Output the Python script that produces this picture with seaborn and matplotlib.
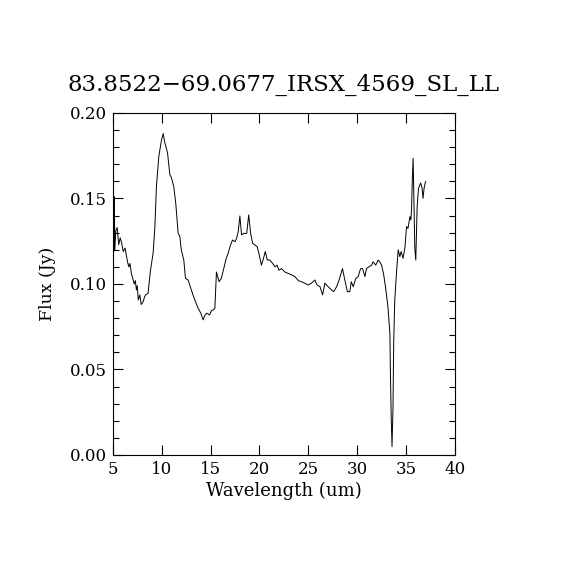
import matplotlib
matplotlib.use('Agg')
import matplotlib.pyplot as plt
from matplotlib.ticker import MultipleLocator
import seaborn as sns
import pandas as pd

wavelength = [5.10, 5.15, 5.20, 5.30, 5.44, 5.60, 5.75, 5.90, 6.06, 6.25, 6.40, 6.50, 6.63,
              6.75, 6.90, 7.05, 7.18, 7.30, 7.41, 7.50, 7.60, 7.76, 7.90, 8.10, 8.25, 8.35,
              8.60, 8.85, 9.12, 9.30, 9.46, 9.70, 9.97, 10.15, 10.30, 10.45, 10.60, 10.83,
              11.00, 11.23, 11.44, 11.68, 11.85, 12.00, 12.26, 12.43, 12.70, 12.97, 13.20,
              13.45, 13.73, 14.00, 14.24, 14.40, 14.60, 14.90, 15.10, 15.27, 15.44, 15.60,
              15.87, 16.10, 16.35, 16.60, 16.80, 17.04, 17.25, 17.50, 17.66, 17.83, 18.00,
              18.17, 18.40, 18.70, 18.90, 19.10, 19.30, 19.54, 19.77, 19.98, 20.20, 20.37,
              20.60, 20.80, 21.07, 21.35, 21.60, 21.80, 22.00, 22.26, 22.60, 22.94, 23.30,
              23.63, 23.97, 24.30, 24.65, 25.00, 25.30, 25.67, 25.90, 26.20, 26.46, 26.70,
              27.04, 27.38, 27.60, 27.90, 28.15, 28.50, 28.74, 29.00, 29.25, 29.40, 29.60,
              29.86, 30.10, 30.35, 30.55, 30.80, 30.95, 31.20, 31.47, 31.63, 31.90, 32.15,
              32.30, 32.50, 32.70, 32.90, 33.15, 33.35, 33.40, 33.50, 33.57, 33.67, 33.74,
              33.85, 34.00, 34.20, 34.37, 34.50, 34.70, 34.90, 35.05, 35.20, 35.40, 35.50,
              35.57, 35.66, 35.73, 35.80, 35.90, 36.00, 36.14, 36.28, 36.50, 36.65, 36.74,
              36.85, 37.00]
flux = [0.119, 0.151, 0.120, 0.131, 0.133, 0.123, 0.127, 0.124, 0.119, 0.121, 0.116, 0.113, 0.110,
        0.112, 0.106, 0.103, 0.100, 0.102, 0.0965, 0.099, 0.0906, 0.0936, 0.088, 0.0897, 0.0925, 0.0936,
        0.0945, 0.108, 0.118, 0.1335, 0.157, 0.1745, 0.184, 0.188, 0.183, 0.180, 0.1764, 0.164,
        0.162, 0.157, 0.147, 0.1296, 0.128, 0.120, 0.114, 0.1033, 0.1023, 0.0975, 0.0936,
        0.0897, 0.0858, 0.0829, 0.079, 0.0815, 0.0829, 0.0819, 0.0845, 0.0848, 0.0858, 0.107,
        0.1013, 0.1033, 0.109, 0.115, 0.118, 0.1228, 0.1257, 0.1247, 0.1267, 0.1306, 0.1398,
        0.1287, 0.1296, 0.1296, 0.1404, 0.1296, 0.1238, 0.1228, 0.1218, 0.117, 0.111, 0.114,
        0.119, 0.114, 0.114, 0.112, 0.110, 0.111, 0.108, 0.109, 0.107, 0.1062, 0.1053,
        0.1043, 0.102, 0.1013, 0.1004, 0.0994, 0.1004, 0.1023, 0.0994, 0.0984, 0.0936, 0.1004,
        0.0984, 0.0965, 0.0955, 0.0984, 0.1023, 0.109, 0.1023, 0.0955, 0.0955, 0.1013, 0.0984,
        0.1033, 0.1043, 0.109, 0.109, 0.1043, 0.109, 0.110, 0.111, 0.113, 0.111, 0.114,
        0.113, 0.111, 0.106, 0.0984, 0.0867, 0.0712, 0.0497, 0.0185, 0.0049, 0.0283, 0.0653,
        0.0906, 0.1043, 0.120, 0.116, 0.119, 0.115, 0.1218, 0.1335, 0.1325, 0.1394, 0.1374,
        0.1442, 0.1637, 0.1735, 0.153, 0.1208, 0.114, 0.145, 0.156, 0.159, 0.156, 0.150,
        0.156, 0.160]

title = '83.8522\u221269.0677_IRSX_4569_SL_LL'

df = pd.DataFrame({'wavelength': wavelength, 'flux': flux})

sns.set_style('ticks')
plt.rcParams['font.family'] = ['DejaVu Serif']
plt.rcParams['text.color'] = 'black'
plt.rcParams['axes.labelcolor'] = 'black'

fig = plt.figure(figsize=(5.7, 5.7), dpi=100)
ax = fig.add_axes([0.198, 0.2018, 0.600, 0.600])

sns.lineplot(data=df, x='wavelength', y='flux', ax=ax, color='black', linewidth=0.7,
             sort=False, estimator=None)

ax.set_xlim(5, 40)
ax.set_ylim(0, 0.2)
ax.xaxis.set_major_locator(MultipleLocator(5))
ax.yaxis.set_major_locator(MultipleLocator(0.05))
ax.yaxis.set_minor_locator(MultipleLocator(0.01))
ax.yaxis.set_major_formatter(plt.FormatStrFormatter('%.2f'))
ax.tick_params(which='both', direction='in', top=True, right=True, labelsize=12,
               width=0.8, colors='black')
ax.tick_params(which='major', length=7, pad=4)
ax.tick_params(which='minor', length=4)
for s in ax.spines.values():
    s.set_linewidth(0.8)
    s.set_color('black')

ax.set_xlabel('Wavelength (um)', fontsize=13, labelpad=3)
ax.set_ylabel('Flux (Jy)', fontsize=12.5, labelpad=10)
ax.set_title(title, fontsize=16.5, pad=16, color='black')

plt.savefig('out.png', dpi=100)
